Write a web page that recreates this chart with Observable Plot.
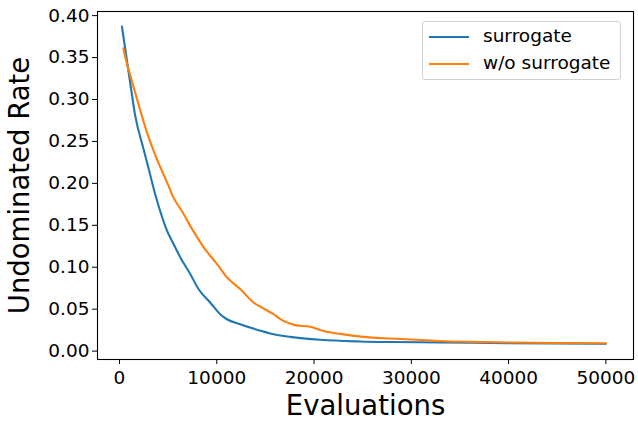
<!DOCTYPE html>
<html>
<head>
<meta charset="utf-8">
<script src="https://cdn.jsdelivr.net/npm/d3@7"></script>
<script src="https://cdn.jsdelivr.net/npm/@observablehq/plot@0.6"></script>
<style>
  html, body { margin: 0; padding: 0; background: #fff; }
  #wrap { position: relative; width: 638px; height: 421px; font-family: "DejaVu Sans", sans-serif; }
  #legend { position: absolute; left: 422px; top: 21px; width: 199px; height: 59px;
    border: 1px solid #d0d0d0; border-radius: 3px; background: rgba(255,255,255,0.8); box-sizing: border-box; }
  .item { position: absolute; left: 6px; font-size: 18.5px; color: #000; white-space: nowrap; }
  .item svg { vertical-align: middle; margin-right: 14px; }
</style>
</head>
<body>
<div id="wrap"><div id="chart"></div><div id="legend"></div></div>
<script>
const evalsSurrogate = [250, 820, 1000, 1610, 2470, 3050, 3670, 4180, 4870, 5550, 6240, 7270, 8120, 9320, 10350, 11040, 12410, 14290, 15490, 17550, 20630, 24750, 28000, 32970, 40000, 50000];
const rateSurrogate = [0.387, 0.342, 0.328, 0.281, 0.241, 0.215, 0.187, 0.167, 0.144, 0.128, 0.112, 0.092, 0.074, 0.058, 0.044, 0.038, 0.032, 0.025, 0.021, 0.017, 0.0135, 0.0115, 0.0108, 0.0103, 0.0095, 0.0088];
const evalsNoSurrogate = [400, 820, 1100, 1790, 2810, 3840, 4360, 5040, 5550, 6410, 7440, 8640, 10010, 11040, 12410, 13780, 14460, 15830, 16860, 18060, 19600, 20970, 23030, 25080, 27830, 30570, 32970, 36000, 40000, 45000, 50000];
const rateNoSurrogate = [0.361, 0.340, 0.329, 0.301, 0.261, 0.229, 0.215, 0.197, 0.183, 0.167, 0.146, 0.124, 0.104, 0.088, 0.074, 0.058, 0.053, 0.044, 0.036, 0.031, 0.029, 0.024, 0.020, 0.017, 0.015, 0.0135, 0.012, 0.011, 0.0103, 0.0097, 0.0093];
const seriesNames = ["surrogate", "w/o surrogate"];
const seriesColors = ["#1f77b4", "#ff7f0e"];
const xTicks = [0, 10000, 20000, 30000, 40000, 50000];
const yTicks = [0, 0.05, 0.10, 0.15, 0.20, 0.25, 0.30, 0.35, 0.40];

const data = [
  ...evalsSurrogate.map((x, i) => ({x, y: rateSurrogate[i], s: seriesNames[0]})),
  ...evalsNoSurrogate.map((x, i) => ({x, y: rateNoSurrogate[i], s: seriesNames[1]}))
];

const chart = Plot.plot({
  width: 638, height: 421,
  marginLeft: 97, marginRight: 5, marginTop: 11, marginBottom: 62,
  style: {fontFamily: "DejaVu Sans, sans-serif", fontSize: "18.5px", color: "#000", background: "#fff"},
  x: {domain: [-2261, 52839]},
  y: {domain: [-0.0100, 0.4049]},
  color: {domain: seriesNames, range: seriesColors},
  marks: [
    Plot.axisX({ticks: xTicks, tickFormat: d3.format("d"), tickSize: 5, tickPadding: 6, fontSize: 18.5,
      label: "Evaluations", labelAnchor: "center", labelArrow: "none", labelOffset: 55}),
    Plot.axisY({ticks: yTicks, tickFormat: d3.format(".2f"), tickSize: 5, tickPadding: 3, fontSize: 18.5,
      label: "Undominated Rate", labelAnchor: "center", labelArrow: "none", labelOffset: 88}),
    Plot.line(data, {x: "x", y: "y", z: "s", stroke: "s", strokeWidth: 2.1, curve: "monotone-x"}),
    Plot.frame({stroke: "#000", strokeWidth: 1.1})
  ]
});
chart.querySelectorAll("g[aria-label='x-axis label'] text, g[aria-label='y-axis label'] text").forEach(t => t.setAttribute("font-size", "27.5"));
document.getElementById("chart").appendChild(chart);

const legend = document.getElementById("legend");
seriesNames.forEach((name, i) => {
  const div = document.createElement("div");
  div.className = "item";
  div.style.top = (i === 0 ? 3 : 30) + "px";
  div.innerHTML = `<svg width="40" height="4"><line x1="0" x2="40" y1="2" y2="2" stroke="${seriesColors[i]}" stroke-width="2.1"/></svg>${name}`;
  legend.appendChild(div);
});
</script>
</body>
</html>
